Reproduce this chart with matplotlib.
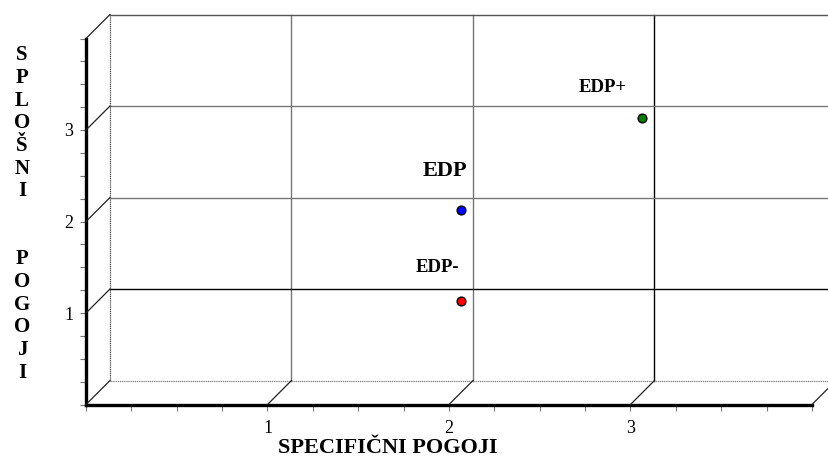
import matplotlib
matplotlib.use("Agg")
import matplotlib.pyplot as plt
import matplotlib.transforms as mtransforms
import numpy as np

# ---- data ----
labels = ["EDP-", "EDP", "EDP+"]
x_vals = [2, 2, 3]
y_vals = [1, 2, 3]
colors = ["#ff0000", "#0000ff", "#008000"]
label_sizes = [13.5, 16, 13.5]
major_ticks = [1, 2, 3]
x_title = "SPECIFIČNI POGOJI"
y_title = "SPLOŠNI  POGOJI"
xlim = (0, 4)
ylim = (0, 4)

SERIF = ["Liberation Serif", "DejaVu Serif"]
W, H = 829, 459
fig = plt.figure(figsize=(W / 100, H / 100), dpi=100)
L, R, B, T = 86, 812, 404.5, 38.5
ax = fig.add_axes([L / W, 1 - B / H, (R - L) / W, (B - T) / H])
ax.set_xlim(*xlim)
ax.set_ylim(*ylim)

# depth offset (pixels) for back plane and points
DX, DY = 24, 24
back = ax.transData + mtransforms.Affine2D().translate(DX, DY)
mid = ax.transData + mtransforms.Affine2D().translate(DX / 2, DY / 2)

# back plane grid
grid_x = list(range(int(xlim[0]), int(xlim[1]) + 1))
grid_y = list(range(int(ylim[0]), int(ylim[1]) + 1))
for gx in grid_x[1:]:
    c = "#000000" if gx == 3 else "#777777"
    ax.plot([gx, gx], [ylim[0], ylim[1]], color=c, lw=1.0, transform=back, clip_on=False)
ax.plot([0, 0], [ylim[0], ylim[1]], color="#555555", lw=0.9, ls=(0, (1, 0.5)), transform=back, clip_on=False)
for gy in grid_y:
    if gy == 0:
        ax.plot([xlim[0], xlim[1]], [gy, gy], color="#888888", lw=0.9, ls=(0, (1, 0.5)), transform=back, clip_on=False)
    else:
        c = "#000000" if gy == 1 else ("#555555" if gy == 4 else "#777777")
        ax.plot([xlim[0], xlim[1]], [gy, gy], color=c, lw=1.0, transform=back, clip_on=False)

# diagonals connecting front axes to back plane
disp0 = ax.transData
for gy in grid_y:
    p = disp0.transform((0, gy))
    q = back.transform((0, gy))
    fig.add_artist(plt.Line2D([p[0] / W, q[0] / W], [p[1] / H, q[1] / H], color="#222222", lw=0.9,
                              transform=fig.transFigure))
for gx in grid_x[1:]:
    p = disp0.transform((gx, 0))
    q = back.transform((gx, 0))
    fig.add_artist(plt.Line2D([p[0] / W, q[0] / W], [p[1] / H, q[1] / H], color="#222222", lw=0.9,
                              transform=fig.transFigure))

# points
offsets = [(-23, 33), (-16, 38), (-40, 31)]
for xv, yv, c, lab, fs, off in zip(x_vals, y_vals, colors, labels, label_sizes, offsets):
    ax.plot([xv], [yv], marker="o", ms=6.3, mfc=c, mec="black", mew=1.0, transform=mid,
            clip_on=False, zorder=5)
    px, py = mid.transform((xv, yv))
    fig.text((px + off[0]) / W, (py + off[1]) / H, lab, fontsize=fs, fontweight="bold",
             family=SERIF, ha="center", va="center")

# spines
for s in ["top", "right"]:
    ax.spines[s].set_visible(False)
for s in ["left", "bottom"]:
    ax.spines[s].set_linewidth(2.4)
    ax.spines[s].set_color("black")
ax.patch.set_alpha(0)

ax.set_xticks(major_ticks)
ax.set_yticks(major_ticks)
ax.set_xticks(np.arange(xlim[0], xlim[1] + 0.01, 0.25), minor=True)
ax.set_yticks(np.arange(ylim[0], ylim[1] + 0.01, 0.25), minor=True)
ax.set_xticklabels([str(t) for t in major_ticks])
ax.set_yticklabels([str(t) for t in major_ticks])
ax.tick_params(which="both", direction="out", length=4, width=0.8, color="#777777")
ax.tick_params(axis="x", which="major", pad=7, labelsize=13)
ax.tick_params(axis="y", which="major", pad=5, labelsize=13)
for lbl in ax.get_xticklabels() + ax.get_yticklabels():
    lbl.set_family(SERIF)

# titles
fig.text(388 / W, 1 - 448 / H, x_title, fontsize=16, fontweight="bold", family=SERIF,
         ha="center", va="center")
fig.text(22 / W, 1 - 214 / H, "\n".join(list(y_title)), fontsize=15, fontweight="bold",
         family=SERIF, ha="center", va="center", linespacing=1.18)

fig.savefig("out.png", dpi=100)
